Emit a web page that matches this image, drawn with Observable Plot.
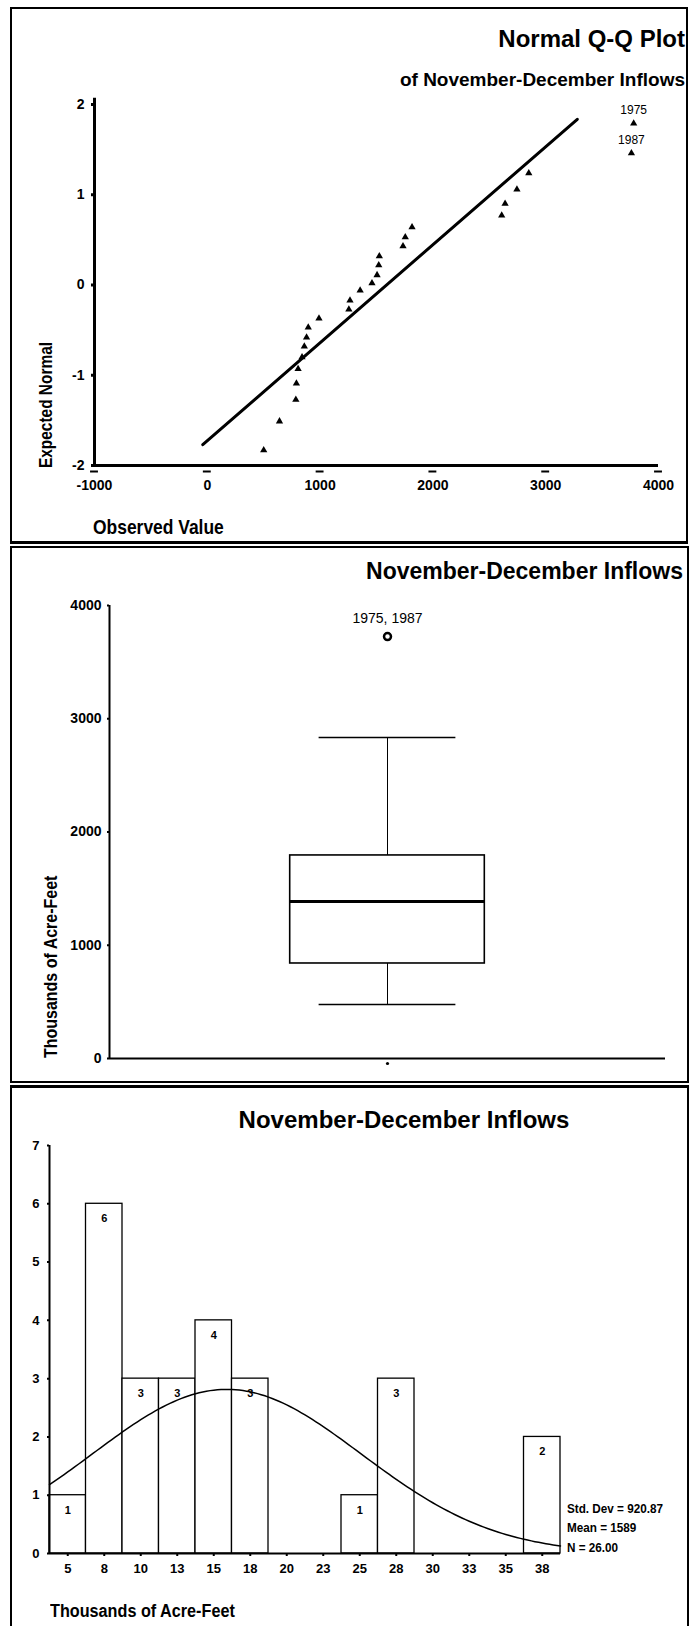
<!DOCTYPE html>
<html><head><meta charset="utf-8">
<script src="https://cdn.jsdelivr.net/npm/d3@7"></script>
<script src="https://cdn.jsdelivr.net/npm/@observablehq/plot@0.6"></script>
<style>
body{margin:0;background:#fff;}
#page{position:relative;width:693px;height:1626px;overflow:hidden;font-family:"Liberation Sans",Arial,sans-serif;color:#000;background:#fff;}
#page svg{position:absolute;left:0;}
.panel{position:absolute;border:2px solid #000;box-sizing:border-box;pointer-events:none;}
.t{position:absolute;font-weight:bold;white-space:nowrap;line-height:1;}
</style></head><body><div id="page"></div>
<script>
// ---------- data ----------
// Q-Q plot (sorted observed values and their expected normal scores)
const qqObserved = [500, 640, 785, 790, 805, 840, 860, 880, 895, 990, 1255, 1265, 1355, 1460, 1505, 1520, 1525, 1735, 1755, 1815, 2610, 2640, 2745, 2850, 3760, 3780];
const qqExpected = [-1.83, -1.51, -1.27, -1.09, -0.93, -0.80, -0.68, -0.58, -0.47, -0.37, -0.27, -0.17, -0.06, 0.02, 0.11, 0.22, 0.32, 0.43, 0.53, 0.64, 0.77, 0.90, 1.06, 1.24, 1.46, 1.79];
const qqYears = ["", "", "", "", "", "", "", "", "", "", "", "", "", "", "", "", "", "", "", "", "", "", "", "", "1987", "1975"];
const qqTicksX = [-1000, 0, 1000, 2000, 3000, 4000];
const qqTicksY = [-2, -1, 0, 1, 2];
const fitLineX = [-40, 3280];

// summary statistics
const mean = 1589;
const stdDev = 920.87;
const nObs = 26;

// box plot
const whiskerLow = 477;
const q1 = 839;
const median = 1386;
const q3 = 1793;
const whiskerHigh = 2834;
const outlierValue = 3726;
const outlierLabel = "1975, 1987";
const boxTicksY = [0, 1000, 2000, 3000, 4000];

// histogram
const binLower = [375, 625, 875, 1125, 1375, 1625, 1875, 2125, 2375, 2625, 2875, 3125, 3375, 3625];
const binCounts = [1, 6, 3, 3, 4, 3, 0, 0, 1, 3, 0, 0, 0, 2];
const binTickLabels = ["5", "8", "10", "13", "15", "18", "20", "23", "25", "28", "30", "33", "35", "38"];
const binWidth = 250;
const histTicksY = [0, 1, 2, 3, 4, 5, 6, 7];

// ---------- drawing ----------
const FONT = '"Liberation Sans", Arial, sans-serif';
const page = document.getElementById("page");

function place(svg, top) { svg.style.top = top + "px"; page.appendChild(svg); }
function text(str, css) {
  const d = document.createElement("div");
  d.className = "t"; d.textContent = str;
  Object.assign(d.style, css);
  page.appendChild(d);
  return d;
}
function panel(l, t, w, h, extra) {
  const d = document.createElement("div");
  d.className = "panel";
  Object.assign(d.style, {left: l + "px", top: t + "px", width: w + "px", height: h + "px"}, extra || {});
  page.appendChild(d);
}

// Panel 1: Normal Q-Q plot
const qqData = qqObserved.map((x, i) => ({x, y: qqExpected[i], year: qqYears[i]}));
const qq = Plot.plot({
  width: 693, height: 545,
  marginLeft: 94, marginRight: 35, marginTop: 104, marginBottom: 80,
  x: {domain: [-1000, 4000], label: null},
  y: {domain: [-2, 2], label: null},
  style: {fontFamily: FONT, fontSize: "14px", fontWeight: "bold", background: "transparent", overflow: "visible"},
  marks: [
    Plot.ruleX([-1000], {y1: -2, y2: 2.07, strokeWidth: 3}),
    Plot.ruleY([-2], {strokeWidth: 3}),
    Plot.ruleY(qqTicksX, {x1: d => d - 35, x2: d => d + 35, y: -2, dy: 6, strokeWidth: 2}),
    Plot.axisX({ticks: qqTicksX, tickSize: 0, tickPadding: 15, tickFormat: d => String(d), label: null}),
    Plot.axisY({ticks: qqTicksY, tickSize: 3, tickPadding: 7, strokeWidth: 3, tickFormat: d => String(d), label: null}),
    Plot.line(fitLineX.map(x => ({x, y: (x - mean) / stdDev})), {x: "x", y: "y", strokeWidth: 3}),
    Plot.dot(qqData, {x: "x", y: "y", symbol: "triangle", r: 2.7, fill: "black", stroke: null}),
    Plot.text(qqData.filter(d => d.year), {x: "x", y: "y", text: "year", dy: -13, fontSize: 12, fontWeight: "normal"})
  ]
});
place(qq, 0);

// Panel 2: box plot
const box = Plot.plot({
  width: 693, height: 535,
  marginLeft: 109, marginRight: 28, marginTop: 58, marginBottom: 24,
  x: {domain: [0, 1], label: null, axis: null},
  y: {domain: [0, 4000], label: null},
  style: {fontFamily: FONT, fontSize: "14px", fontWeight: "bold", background: "transparent", overflow: "visible"},
  marks: [
    Plot.ruleX([0], {y1: 0, y2: 4000, strokeWidth: 2}),
    Plot.ruleY([0], {strokeWidth: 2}),
    Plot.axisY({ticks: boxTicksY, tickSize: 2, tickPadding: 6, strokeWidth: 2, tickFormat: d => String(d), label: null}),
    Plot.dot([0.5], {x: d => d, y: 0, dy: 5, r: 1.6, fill: "black", stroke: null}),
    Plot.ruleX([0.5], {y1: q3, y2: whiskerHigh, strokeWidth: 1}),
    Plot.ruleX([0.5], {y1: whiskerLow, y2: q1, strokeWidth: 1}),
    Plot.ruleY([whiskerHigh, whiskerLow], {x1: 0.5 - 0.123, x2: 0.5 + 0.123, strokeWidth: 1.5}),
    Plot.rect([0], {x1: 0.5 - 0.175, x2: 0.5 + 0.175, y1: q1, y2: q3, fill: "none", stroke: "black", strokeWidth: 1.6}),
    Plot.ruleY([median], {x1: 0.5 - 0.175, x2: 0.5 + 0.175, strokeWidth: 3}),
    Plot.dot([outlierValue], {x: 0.5, y: d => d, r: 3.5, stroke: "black", strokeWidth: 2.5, fill: "white"}),
    Plot.text([outlierLabel], {x: 0.5, y: outlierValue, text: d => d, dy: -18, fontSize: 14, fontWeight: "normal"})
  ]
});
place(box, 547);

// Panel 3: histogram with normal curve
const bins = binLower.map((lo, i) => ({lo, hi: lo + binWidth, mid: lo + binWidth / 2, count: binCounts[i], label: binTickLabels[i]}));
const curveScale = nObs * binWidth / (stdDev * Math.sqrt(2 * Math.PI));
const curveX = d3.range(binLower[0], binLower[binLower.length - 1] + binWidth + 1, 25);
const curve = curveX.map(x => ({x, y: curveScale * Math.exp(-0.5 * ((x - mean) / stdDev) ** 2)}));
const hist = Plot.plot({
  width: 693, height: 540,
  marginLeft: 49, marginRight: 133, marginTop: 59, marginBottom: 73,
  x: {domain: [binLower[0], binLower[binLower.length - 1] + binWidth], label: null},
  y: {domain: [0, 7], label: null},
  style: {fontFamily: FONT, fontSize: "13px", fontWeight: "bold", background: "transparent", overflow: "visible"},
  marks: [
    Plot.rectY(bins.filter(d => d.count > 0), {x1: "lo", x2: "hi", y1: 0, y2: "count", fill: "white", stroke: "black", strokeWidth: 1.3}),
    Plot.text(bins.filter(d => d.count > 0), {x: "mid", y: "count", text: d => String(d.count), dy: 15, fontSize: 11}),
    Plot.line(curve, {x: "x", y: "y", strokeWidth: 1.5}),
    Plot.ruleX([binLower[0]], {y1: 0, y2: 7, strokeWidth: 2}),
    Plot.ruleY([0], {strokeWidth: 2}),
    Plot.axisX({ticks: bins.map(d => d.mid), tickSize: 3, tickPadding: 7, strokeWidth: 2, tickFormat: d => bins.find(b => b.mid === d).label, label: null}),
    Plot.axisY({ticks: histTicksY, tickSize: 2, tickPadding: 8, strokeWidth: 2, tickFormat: d => String(d), label: null})
  ]
});
place(hist, 1086);

// ---------- text ----------
text("Normal Q-Q Plot", {fontSize: "24px", right: "8px", top: "27px", textAlign: "right"});
text("of November-December Inflows", {fontSize: "19px", right: "8px", top: "70px", textAlign: "right"});
text("Observed Value", {fontSize: "21px", left: "93px", top: "516px", transformOrigin: "0 0", transform: "scaleX(0.83)"});
text("Expected Normal", {fontSize: "18px", left: "37px", top: "468px", transformOrigin: "0 0", transform: "rotate(-90deg) scaleX(0.857)"});

text("November-December Inflows", {fontSize: "23px", right: "10px", top: "560px", textAlign: "right"});
text("Thousands of Acre-Feet", {fontSize: "18px", left: "42px", top: "1058px", transformOrigin: "0 0", transform: "rotate(-90deg) scaleX(0.888)"});

text("November-December Inflows", {fontSize: "24px", left: "404px", top: "1108px", transform: "translateX(-50%)"});
text("Thousands of Acre-Feet", {fontSize: "18px", left: "50px", top: "1602px", transformOrigin: "0 0", transform: "scaleX(0.9)"});
const legendCss = {fontSize: "13px", left: "567px", transformOrigin: "0 0", transform: "scaleX(0.9)"};
text("Std. Dev = " + stdDev.toFixed(2), Object.assign({top: "1502px"}, legendCss));
text("Mean = " + mean, Object.assign({top: "1521px"}, legendCss));
text("N = " + nObs.toFixed(2), Object.assign({top: "1541px"}, legendCss));

// ---------- panel borders ----------
panel(10, 7, 678, 537, {borderBottomWidth: "3px"});
panel(10, 546, 679, 537);
panel(10, 1085, 679, 600, {borderTopWidth: "3px"});
</script></body></html>
